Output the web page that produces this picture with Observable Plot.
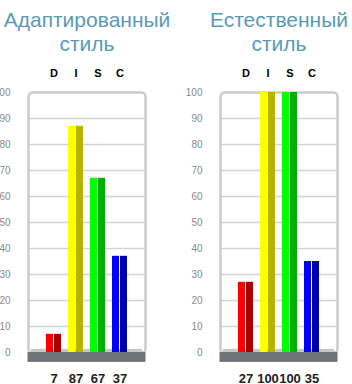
<!DOCTYPE html>
<html>
<head>
<meta charset="utf-8">
<script src="https://cdn.jsdelivr.net/npm/d3@7"></script>
<script src="https://cdn.jsdelivr.net/npm/@observablehq/plot@0.6"></script>
<style>
  html, body { margin: 0; padding: 0; background: #fff; }
  #row { display: flex; width: 352px; height: 384px; overflow: hidden; }
  #row svg { display: block; }
</style>
</head>
<body>
<div id="row"></div>
<script>
// DISC profile: adapted vs. natural style
const categories = ["D", "I", "S", "C"];
const adaptedValues = [7, 87, 67, 37];
const naturalValues = [27, 100, 100, 35];
const brightColors = ["#ff0000", "#ffff00", "#00ff00", "#0000ff"];
const shadeColors = ["#aa0000", "#b8b300", "#00b000", "#0000aa"];
const yTicks = [0, 10, 20, 30, 40, 50, 60, 70, 80, 90, 100];
const gridValues = [10, 20, 30, 40, 50, 60, 70, 80, 90];
const panelTitles = ["Адаптированный\nстиль", "Естественный\nстиль"];

const font = "'Liberation Sans', Arial, Helvetica, sans-serif";

function panel(title, values, marginLeft, marginRight) {
  const data = categories.map((c, i) => ({
    cat: c, value: values[i], bright: brightColors[i], shade: shadeColors[i]
  }));
  return Plot.plot({
    width: 176,
    height: 384,
    marginTop: 92,
    marginBottom: 32,
    marginLeft,
    marginRight,
    style: { fontFamily: font, background: "#fff", overflow: "visible" },
    x: { domain: categories, paddingInner: 0.3, paddingOuter: 0.7, axis: null },
    y: { domain: [0, 100], axis: null },
    marks: [
      Plot.ruleY(gridValues, { stroke: "#d4d4d4", strokeWidth: 1.5 }),
      Plot.frame({ stroke: "#cccccc", strokeWidth: 2.5, rx: 4 }),
      Plot.rect([0], { y1: 0, y2: 1.2, insetLeft: 3, insetRight: 3, fill: "#c6c6c6" }),
      Plot.barY(data, { x: "cat", y: "value", fill: "bright", insetRight: 8 }),
      Plot.barY(data, { x: "cat", y: "value", fill: "shade", insetLeft: 8 }),
      Plot.rect([0], { y1: 0, y2: -3.8, insetLeft: -0.5, insetRight: -0.5, fill: "#6e7279" }),
      Plot.axisY(yTicks, {
        label: null, tickSize: 0, tickPadding: 18, fontSize: 10, fill: "#8a8a8a"
      }),
      Plot.text(data, {
        x: "cat", text: "cat", frameAnchor: "top", lineAnchor: "bottom",
        dy: -16, fontSize: 11, fontWeight: "bold", fill: "#000"
      }),
      Plot.text(data, {
        x: "cat", text: d => String(d.value), frameAnchor: "bottom", lineAnchor: "bottom",
        dy: 30, fontSize: 13, fontWeight: "bold", fill: "#222"
      }),
      Plot.text([title], {
        frameAnchor: "top", lineAnchor: "bottom", dy: -42,
        fontSize: 21, lineHeight: 1.1, fill: "#5b9ab6"
      })
    ]
  });
}

const row = document.getElementById("row");
row.append(panel(panelTitles[0], adaptedValues, 28, 31));
row.append(panel(panelTitles[1], naturalValues, 44, 15));
</script>
</body>
</html>
